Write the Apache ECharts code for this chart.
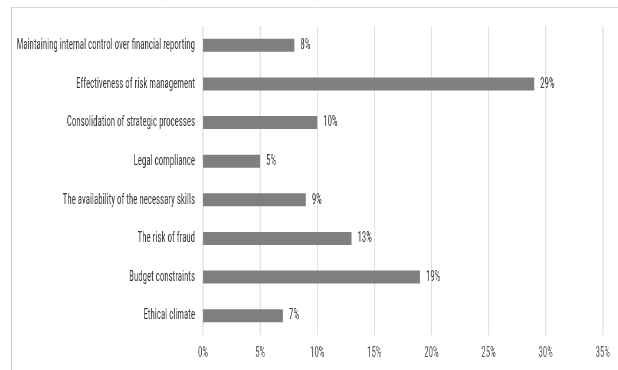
<!DOCTYPE html>
<html><head><meta charset="utf-8">
<script src="https://cdn.jsdelivr.net/npm/echarts@6/dist/echarts.min.js"></script>
<style>html,body{margin:0;padding:0;background:#fff;overflow:hidden}#wrap{width:618px;height:370px;overflow:hidden;position:relative}#c{position:absolute;left:0;top:0;height:370px;transform-origin:0 0}</style>
</head><body><div id="wrap"><div id="c"></div></div>
<script>
const categories = [
  "Maintaining internal control over financial reporting",
  "Effectiveness of risk management",
  "Consolidation of strategic processes",
  "Legal compliance",
  "The availability of the necessary skills",
  "The risk of fraud",
  "Budget constraints",
  "Ethical climate"
];
const values = [8, 29, 10, 5, 9, 13, 19, 7];
const xTicks = [0, 5, 10, 15, 20, 25, 30, 35];

// The reference text is strongly condensed horizontally: draw in a wider
// canvas and squeeze it back to 618px wide.
const S = 0.59;
const W = Math.round(618 / S);
const el = document.getElementById('c');
el.style.width = W + 'px';
el.style.transform = 'scaleX(' + S + ')';

const FONT = '"Roboto Condensed", "Liberation Sans Narrow", sans-serif';
const chart = echarts.init(el, null, {renderer: 'canvas', width: W, height: 370});
chart.setOption({
  animation: false,
  backgroundColor: '#fff',
  graphic: [
    {type: 'line', shape: {x1: 11 / S, y1: 7.5, x2: W, y2: 7.5}, style: {stroke: '#d9d9d9', lineWidth: 1}},
    {type: 'line', shape: {x1: 11.5 / S, y1: 7, x2: 11.5 / S, y2: 370}, style: {stroke: '#cfcfcf', lineWidth: 1 / S}}
  ],
  grid: {left: 203 / S, right: 15 / S, top: 26, bottom: 35, containLabel: false, outerBoundsMode: 'none'},
  xAxis: {
    type: 'value', min: xTicks[0], max: xTicks[xTicks.length - 1], interval: 5,
    axisLine: {show: false}, axisTick: {show: false},
    splitLine: {show: true, lineStyle: {color: '#dcdcdc', width: 1 / S}},
    axisLabel: {formatter: '{value}%', color: '#595959', fontFamily: FONT, fontSize: 15, margin: 11}
  },
  yAxis: {
    type: 'category', data: categories, inverse: true,
    axisLine: {show: false}, axisTick: {show: false},
    axisLabel: {color: '#3a3a3a', fontFamily: FONT, fontSize: 15, margin: 8 / S}
  },
  series: [{
    type: 'bar', data: values, barWidth: 13,
    itemStyle: {color: '#7f7f7f'},
    label: {show: true, position: 'right', distance: 6 / S, formatter: '{c}%', color: '#3a3a3a', fontFamily: FONT, fontSize: 15}
  }]
});
</script></body></html>
